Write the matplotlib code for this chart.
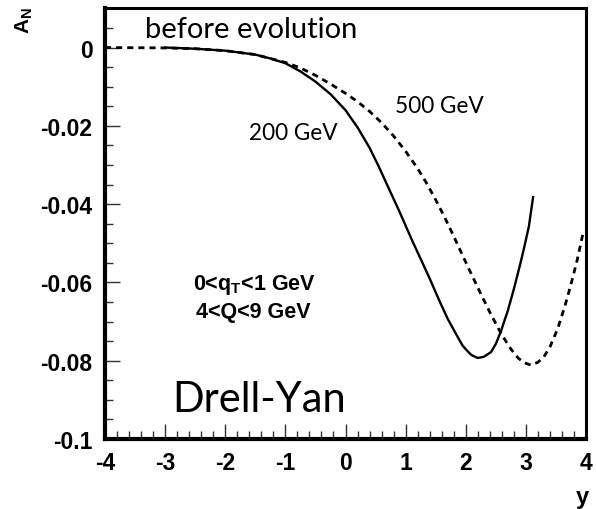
import matplotlib
matplotlib.use("Agg")
import matplotlib.pyplot as plt
from matplotlib.ticker import MultipleLocator

plt.rcParams['mathtext.fontset'] = 'custom'
plt.rcParams['mathtext.rm'] = 'Liberation Sans:bold'
plt.rcParams['mathtext.bf'] = 'Liberation Sans:bold'
plt.rcParams['mathtext.it'] = 'Liberation Sans:bold'

# A_N vs rapidity, before evolution
y_200 = [-3.0, -2.5, -2.0, -1.5, -1.25, -1.0, -0.75, -0.5, -0.25, 0.0, 0.2,
         0.4, 0.55, 0.75, 0.9, 1.1, 1.25, 1.4, 1.55, 1.7, 1.85, 1.95, 2.05,
         2.1, 2.2, 2.3, 2.42, 2.5, 2.58, 2.7, 2.8, 2.9, 2.97, 3.05, 3.12]
an_200 = [0.0, -0.0003, -0.0008, -0.0018, -0.0028, -0.0040, -0.0061, -0.0087,
          -0.0119, -0.0160, -0.0204, -0.0256, -0.0303, -0.037, -0.042,
          -0.049, -0.054, -0.059, -0.0643, -0.0693, -0.0735, -0.0762,
          -0.0779, -0.0786, -0.0793, -0.0790, -0.0778, -0.0757, -0.0727,
          -0.0672, -0.0617, -0.0557, -0.0512, -0.0457, -0.0382]

y_500 = [-4.0, -3.0, -2.5, -2.0, -1.5, -1.0, -0.75, -0.5, -0.25, 0.0, 0.2,
         0.4, 0.6, 0.8, 1.0, 1.2, 1.35, 1.5, 1.65, 1.8, 1.95, 2.1, 2.25,
         2.4, 2.55, 2.65, 2.75, 2.87, 2.97, 3.08, 3.2, 3.3, 3.4, 3.53, 3.65,
         3.75, 3.85, 3.95]
an_500 = [0.0, -0.0001, -0.0003, -0.0008, -0.0018, -0.0038, -0.0052, -0.0071,
          -0.0093, -0.0117, -0.0138, -0.0163, -0.0192, -0.0226, -0.0265,
          -0.0309, -0.0347, -0.0389, -0.0434, -0.0482, -0.0532, -0.0581,
          -0.0629, -0.0676, -0.0720, -0.0746, -0.0770, -0.0793, -0.0805,
          -0.0811, -0.0804, -0.0790, -0.0765, -0.0718, -0.066, -0.0605,
          -0.0545, -0.0475]

xticks = [-4, -3, -2, -1, 0, 1, 2, 3, 4]
yticks = [0, -0.02, -0.04, -0.06, -0.08, -0.1]
ytick_labels = ['0', '-0.02', '-0.04', '-0.06', '-0.08', '-0.1']

fig = plt.figure(figsize=(5.96, 5.10), dpi=100)
ax = fig.add_axes([105 / 596, 1 - 440 / 510, 481 / 596, 431 / 510])

ax.plot(y_200, an_200, color='black', lw=1.7, solid_joinstyle='round')
ax.plot(y_500, an_500, color='black', lw=2.0, linestyle=(0, (2.2, 1.8)))

ax.set_xlim(-4, 4)
ax.set_ylim(-0.1, 0.0101)
ax.set_xticks(xticks)
ax.set_xticklabels([str(t) for t in xticks])
ax.set_yticks(yticks)
ax.set_yticklabels(ytick_labels)
ax.xaxis.set_minor_locator(MultipleLocator(0.2))
ax.yaxis.set_minor_locator(MultipleLocator(0.005))

tick_font = dict(family='Liberation Sans', weight='bold', size=16.5)
for lab in ax.get_xticklabels() + ax.get_yticklabels():
    lab.set(**tick_font)

ax.tick_params(which='both', direction='in', top=False, right=False,
               color='#333333', width=1.0)
ax.tick_params(which='major', length=11, pad=9)
ax.tick_params(which='minor', length=5.5)

ax.spines['left'].set_linewidth(3.0)
ax.spines['bottom'].set_linewidth(3.0)
ax.spines['top'].set_linewidth(2.2)
ax.spines['right'].set_linewidth(2.2)

# axis titles in the ROOT style
fig.text(24 / 596, 1 - 21 / 510, r'A$_{N}$', rotation=90, ha='center',
         va='center', family='Liberation Sans', weight='bold', size=15)
fig.text(582 / 596, 1 - 498 / 510, 'y', ha='center', va='center',
         family='Liberation Sans', weight='bold', size=17)

# annotations
ax.text(-3.33, 0.0027, 'before evolution', family='Lato', size=21,
        va='baseline')
ax.text(-1.6, -0.0234, '200 GeV', family='Lato', size=16.3, va='baseline')
ax.text(0.83, -0.0165, '500 GeV', family='Lato', size=16.3, va='baseline')
ax.text(-2.53, -0.0617, r'0<q$_{T}$<1 GeV', family='Liberation Sans',
        weight='bold', size=15.5, va='baseline')
ax.text(-2.48, -0.0689, '4<Q<9 GeV', family='Liberation Sans',
        weight='bold', size=15.5, va='baseline')
ax.text(-2.88, -0.0928, 'Drell-Yan', family='Lato', size=30, va='baseline')

fig.savefig('out.png', dpi=100)
